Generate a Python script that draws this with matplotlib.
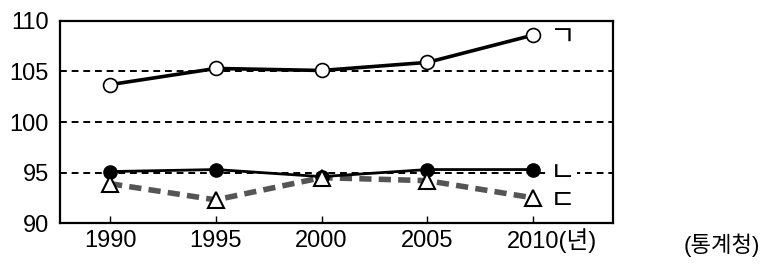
import matplotlib.pyplot as plt

plt.rcParams['font.family'] = ['Liberation Sans', 'Noto Sans CJK KR']

years = [1990, 1995, 2000, 2005, 2010]
series_a = [103.7, 105.3, 105.1, 105.9, 108.6]   # ㄱ
series_b = [95.1, 95.3, 94.6, 95.3, 95.3]        # ㄴ
series_c = [93.9, 92.3, 94.5, 94.2, 92.5]        # ㄷ
labels = ['ㄱ', 'ㄴ', 'ㄷ']
yticks = [90, 95, 100, 105, 110]

fig = plt.figure(figsize=(7.81, 2.65), dpi=100)
ax = fig.add_axes([0.077, 0.158, 0.708, 0.763])

for yv in [95, 100, 105]:
    ax.axhline(yv, color='black', lw=1.4, ls=(0, (3.5, 2.5)), zorder=1)

ax.plot(years, series_c, color='#555555', lw=4, ls=(0, (2.2, 1.3)), zorder=2)
ax.plot(years, series_c, ls='none', marker='^', ms=11, mfc='white', mec='black', mew=1.5, zorder=5)
ax.plot(years, series_b, color='black', lw=2, marker='o', ms=9.5, mfc='black', mec='black', zorder=4)
ax.plot(years, series_a, color='black', lw=2.6, marker='o', ms=10, mfc='white', mec='black', mew=1.2, zorder=4)

for s, lab in zip([series_a, series_b, series_c], labels):
    bb = dict(facecolor='white', edgecolor='none', pad=1) if lab == 'ㄴ' else None
    ax.annotate(lab, (years[-1], s[-1]), xytext=(12, -3), textcoords='offset points',
                va='center', ha='left', fontsize=20, bbox=bb, zorder=6)

ax.set_xlim(1987.64, 2013.78)
ax.set_ylim(90, 110)
ax.set_xticks(years)
ax.set_xticklabels([str(y) for y in years[:-1]] + [''], fontsize=17)
ax.set_yticks(yticks)
ax.set_yticklabels([str(y) for y in yticks], fontsize=17)
ax.tick_params(axis='x', direction='in', length=5, width=1, pad=5)
ax.tick_params(axis='y', length=0, pad=8)
for sp in ax.spines.values():
    sp.set_linewidth(1.6)

ax.annotate('2010(년)', xy=(years[-1], 0), xycoords=('data', 'axes fraction'),
            xytext=(-19, -4), textcoords='offset points', fontsize=17,
            ha='left', va='top', annotation_clip=False)
fig.text(0.973, 0.075, '(통계청)', fontsize=16, ha='right', va='center')

fig.savefig('out.png', dpi=100)
